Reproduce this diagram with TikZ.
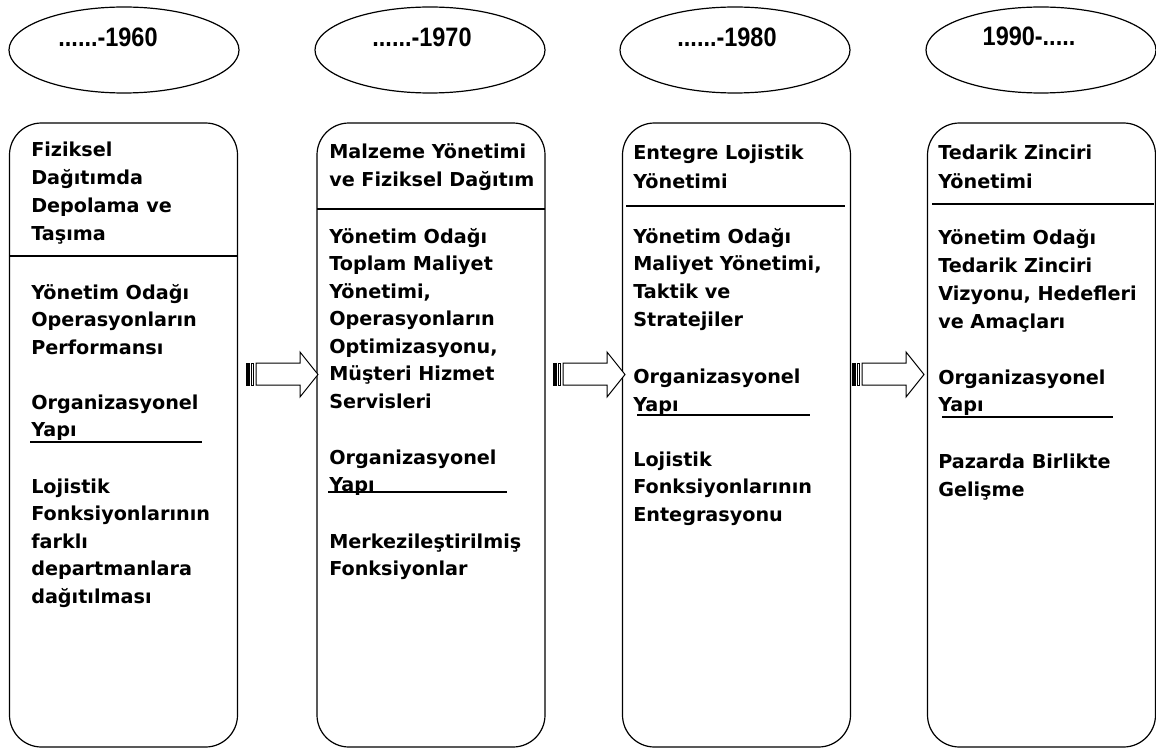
\documentclass[tikz,border=0pt]{standalone}
\usepackage{fontspec}
\setmainfont{DejaVu Sans}
\newfontfamily\colfont{DejaVu Sans}
\newfontfamily\yearfont{Liberation Sans}
\usetikzlibrary{shapes.geometric}

\tikzset{
  colbox/.style={draw, rounded corners=24pt, minimum width=171pt,
    minimum height=468pt, line width=0.9pt},
  yearoval/.style={draw, ellipse, minimum width=172.5pt,
    minimum height=64.5pt, line width=0.9pt},
  yeartxt/.style={inner sep=0pt, xscale=0.88,
    font=\yearfont\bfseries\fontsize{20}{22}\selectfont},
  txt/.style={anchor=base west, inner sep=0pt,
    font=\colfont\bfseries\fontsize{14.4}{16}\selectfont},
  rule/.style={line width=0.9pt},
  blockarrow/.style={draw, fill=white, line width=0.75pt}
}

\begin{document}
\begin{tikzpicture}[x=0.75pt, y=-0.75pt]
 \useasboundingbox (0,0) rectangle (1156,749);
 % period ovals
 \node[yearoval] (y1) at (124,50) {};
 \node[yearoval] (y2) at (430,50) {};
 \node[yearoval] (y3) at (735,50) {};
 \node[yearoval] (y4) at (1041,50) {};
 \node[yeartxt] (t1) at (108,37) {......-1960};
 \node[yeartxt] (t2) at (422,37) {......-1970};
 \node[yeartxt] (t3) at (727,37) {......-1980};
 \node[yeartxt] (t4) at (1029,36) {1990-.....};
 % columns
 \node[colbox] (c1) at (123.5,435) {};
 \node[colbox] (c2) at (431,435) {};
 \node[colbox] (c3) at (736.5,435) {};
 \node[colbox] (c4) at (1041.5,435) {};
 \draw[rule] (9,256) -- (238,256);
 \draw[rule] (317,209) -- (545,209);
 \draw[rule] (626,206) -- (845,206);
 \draw[rule] (932,204) -- (1154,204);
 % column 1
 \foreach \s [count=\i from 0] in {Fiziksel, Dağıtımda, Depolama ve, Taşıma}
   \node[txt] (a1-\i) at (31,156+28.3*\i) {\s};
 \foreach \s [count=\i from 0] in {Yönetim Odağı, Operasyonların, Performansı}
   \node[txt] (b1-\i) at (31,299+27.5*\i) {\s};
 \foreach \s [count=\i from 0] in {Organizasyonel, Yapı}
   \node[txt] (o1-\i) at (31,409+27.5*\i) {\s};
 \draw[rule] (30,442) -- (202,442);
 \foreach \s [count=\i from 0] in {Lojistik, Fonksiyonlarının, farklı, departmanlara, dağıtılması}
   \node[txt] (l1-\i) at (31,493+27.5*\i) {\s};
 % column 2
 \foreach \s [count=\i from 0] in {Malzeme Yönetimi, ve Fiziksel Dağıtım}
   \node[txt] (a2-\i) at (329,158+28*\i) {\s};
 \foreach \s [count=\i from 0] in {Yönetim Odağı, Toplam Maliyet, {Yönetimi,}, Operasyonların, {Optimizasyonu,}, Müşteri Hizmet, Servisleri}
   \node[txt] (b2-\i) at (329,243+27.5*\i) {\s};
 \foreach \s [count=\i from 0] in {Organizasyonel, Yapı}
   \node[txt] (o2-\i) at (329,464+27.5*\i) {\s};
 \draw[rule] (328,492) -- (507,492);
 \foreach \s [count=\i from 0] in {Merkezileştirilmiş, Fonksiyonlar}
   \node[txt] (l2-\i) at (329,548+27*\i) {\s};
 % column 3
 \foreach \s [count=\i from 0] in {Entegre Lojistik, Yönetimi}
   \node[txt] (a3-\i) at (633,159+29*\i) {\s};
 \foreach \s [count=\i from 0] in {Yönetim Odağı, {Maliyet Yönetimi,}, Taktik ve, Stratejiler}
   \node[txt] (b3-\i) at (633,243+27.7*\i) {\s};
 \foreach \s [count=\i from 0] in {Organizasyonel, Yapı}
   \node[txt] (o3-\i) at (633,383+28*\i) {\s};
 \draw[rule] (637,415) -- (810,415);
 \foreach \s [count=\i from 0] in {Lojistik, Fonksiyonlarının, Entegrasyonu}
   \node[txt] (l3-\i) at (633,466+27.5*\i) {\s};
 % column 4
 \foreach \s [count=\i from 0] in {Tedarik Zinciri, Yönetimi}
   \node[txt] (a4-\i) at (938,159+29*\i) {\s};
 \foreach \s [count=\i from 0] in {Yönetim Odağı, Tedarik Zinciri, {Vizyonu, Hedefleri}, ve Amaçları}
   \node[txt] (b4-\i) at (938,244+28*\i) {\s};
 \foreach \s [count=\i from 0] in {Organizasyonel, Yapı}
   \node[txt] (o4-\i) at (938,384+27*\i) {\s};
 \draw[rule] (942,417) -- (1113,417);
 \foreach \s [count=\i from 0] in {Pazarda Birlikte, Gelişme}
   \node[txt] (l4-\i) at (938,468+28*\i) {\s};
 % striped arrows between the columns
 \foreach \ax in {246,553,852} {
   \draw[blockarrow] (\ax+10,363) -- (\ax+54,363) -- (\ax+54,352)
     -- (\ax+72,374.5) -- (\ax+54,397) -- (\ax+54,385) -- (\ax+10,385) -- cycle;
   \draw[blockarrow, fill=black] (\ax,363) rectangle (\ax+3,385);
   \draw[blockarrow] (\ax+5.5,363) rectangle (\ax+7.5,385);
 }
\end{tikzpicture}
\end{document}
